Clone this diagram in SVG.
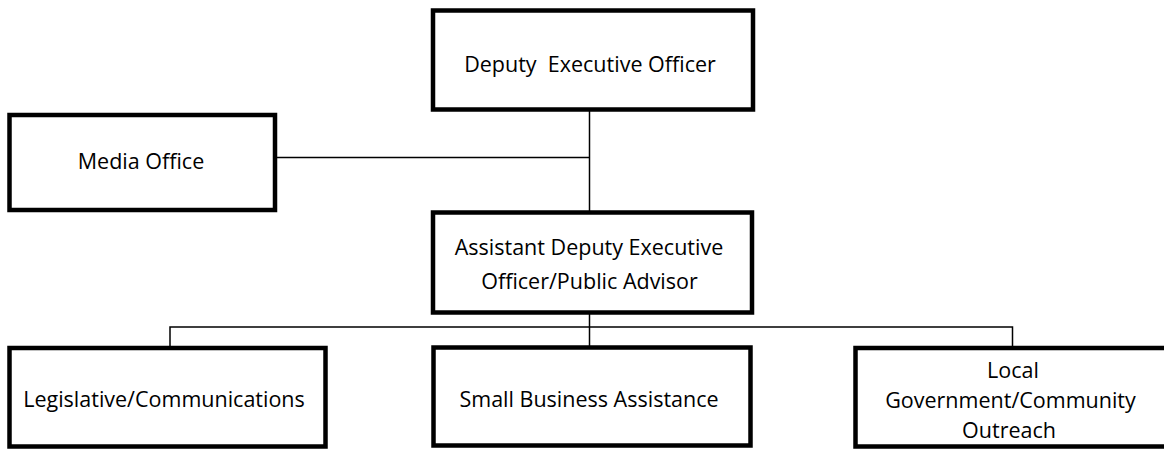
<svg xmlns="http://www.w3.org/2000/svg" width="1164" height="449" viewBox="0 0 1164 449">
<style>
.box{fill:#fff;stroke:#000;stroke-width:4.5}
.lbl{font-family:"Open Sans","Liberation Sans",Arial,sans-serif;font-size:21.5px;fill:#000;text-anchor:middle}
.con{stroke:#000;stroke-width:1.5;fill:none}
</style>
<rect width="1164" height="449" fill="#fff"/>
<g id="connectors">
<line class="con" x1="589.5" y1="110" x2="589.5" y2="212"/>
<line class="con" x1="276" y1="157.5" x2="589.5" y2="157.5"/>
<line class="con" x1="589.5" y1="313" x2="589.5" y2="347"/>
<polyline class="con" points="170,348 170,327 1012.5,327 1012.5,348"/>
</g>
<g id="deputy">
<rect class="box" x="433" y="10.5" width="320" height="99"/>
<text class="lbl" x="590" y="72" xml:space="preserve">Deputy  Executive Officer</text>
</g>
<g id="media">
<rect class="box" x="9.5" y="115" width="265.5" height="95"/>
<text class="lbl" x="141" y="169">Media Office</text>
</g>
<g id="assistant">
<rect class="box" x="433" y="212.5" width="319" height="100"/>
<text class="lbl" x="589" y="255">Assistant Deputy Executive</text>
<text class="lbl" x="589.5" y="289">Officer/Public Advisor</text>
</g>
<g id="legislative">
<rect class="box" x="9.5" y="348" width="316" height="98.5"/>
<text class="lbl" x="164" y="407">Legislative/Communications</text>
</g>
<g id="smallbiz">
<rect class="box" x="433.5" y="347.5" width="317" height="98"/>
<text class="lbl" x="589" y="407">Small Business Assistance</text>
</g>
<g id="local">
<rect class="box" x="855.5" y="348" width="312" height="98.5"/>
<text class="lbl" x="1013" y="378">Local</text>
<text class="lbl" x="1010.5" y="408">Government/Community</text>
<text class="lbl" x="1009" y="438">Outreach</text>
</g>
</svg>
